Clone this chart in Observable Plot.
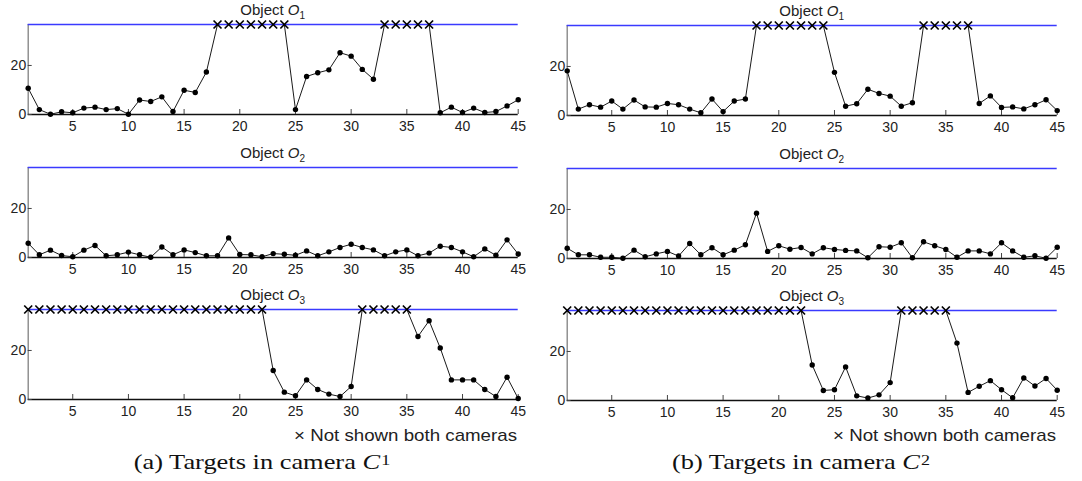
<!DOCTYPE html>
<html><head><meta charset="utf-8">
<script src="https://cdn.jsdelivr.net/npm/d3@7"></script>
<script src="https://cdn.jsdelivr.net/npm/@observablehq/plot@0.6"></script>
<style>
body{margin:0;background:#fff;}
#chart{position:relative;width:1082px;height:481px;overflow:hidden;font-family:"Liberation Sans",Arial,sans-serif;color:#222;}
#chart svg{position:absolute;background:none;}
.title{position:absolute;font-size:15px;line-height:1;white-space:nowrap;transform:translateX(-50%);}
.sub{font-size:10px;position:relative;top:4px;}
.note{position:absolute;font-size:17px;line-height:1;white-space:nowrap;text-align:right;transform:scaleX(1.1);transform-origin:right center;}
.cap{position:absolute;font-family:"Liberation Serif","DejaVu Serif",serif;font-size:22px;line-height:1;white-space:nowrap;transform:translateX(-50%) scaleX(1.2);color:#111;}
.cap sup{font-size:15px;position:relative;top:-4px;vertical-align:baseline;margin-left:1px;}
</style></head><body><div id="chart"></div>
<script>
// Frame-wise values; null = target not shown in both cameras (drawn as × on the top line)
const cam1O1 = [10.7,2.0,0.1,1.1,0.7,2.6,3.0,2.0,2.4,0.1,5.9,5.3,7.2,1.2,9.9,9.0,17.3,
  null,null,null,null,null,null,null,2.0,15.5,17.0,18.2,25.2,23.8,18.4,14.4,
  null,null,null,null,null,0.7,3.0,0.8,2.6,0.8,1.2,3.5,6.0];
const cam2O1 = [18.2,2.6,4.4,3.4,5.9,2.6,6.3,3.5,3.4,4.9,4.4,2.6,1.1,6.7,1.6,5.9,6.7,
  null,null,null,null,null,null,null,17.6,3.8,4.8,10.7,9.0,7.9,3.8,5.2,
  null,null,null,null,null,4.9,8.0,3.3,3.5,2.7,4.4,6.4,2.0];
const cam1O2 = [5.8,1.1,3.0,0.8,0.3,3.0,4.9,0.7,1.1,2.2,1.1,0.1,4.3,1.1,3.1,2.0,0.7,0.7,8.0,1.2,
  1.1,0.3,1.6,1.3,0.9,2.7,0.7,2.3,4.1,5.4,4.1,3.1,0.7,2.3,3.1,0.7,1.8,4.6,4.1,2.3,0.3,3.5,0.9,7.2,1.4];
const cam2O2 = [4.2,1.5,1.5,0.5,0.5,0.1,3.4,0.7,1.9,2.9,1.0,6.1,1.5,4.4,1.5,3.4,5.6,18.5,2.9,5.2,
  3.8,4.5,1.9,4.4,3.7,3.3,3.1,0.3,4.8,4.6,6.4,0.3,6.8,5.2,3.7,0.5,3.1,3.1,1.9,6.4,3.1,0.5,1.1,0.1,4.6];
const cam1O3 = [null,null,null,null,null,null,null,null,null,null,null,null,null,null,null,null,null,null,null,null,null,null,
  11.8,3.0,1.5,8.0,4.1,2.2,1.2,5.3,null,null,null,null,null,25.7,32.1,21.0,8.0,8.0,8.0,4.1,1.2,9.1,0.4];
const cam2O3 = [null,null,null,null,null,null,null,null,null,null,null,null,null,null,null,null,null,null,null,null,null,null,
  14.5,4.1,4.4,13.7,1.9,1.0,2.3,7.3,null,null,null,null,null,23.4,3.3,5.8,8.1,4.4,1.1,9.2,5.9,9.0,4.2];
const notShownLevel = 36.7;
const xTicks = [5,10,15,20,25,30,35,40,45];
const yTicks = [0,20];
const objectNames = ["1","2","3"];
const cameraCaptions = [["(a)","1"],["(b)","2"]];
const noteText = "× Not shown both cameras";

const chart = document.getElementById("chart");
const colLeft = [0, 539];
const rowTop = [0, 143, 285];
const W = 540, H = 140;
const panels = [[cam1O1, cam1O2, cam1O3],[cam2O1, cam2O2, cam2O3]];

function panel(values, left, top) {
  const rows = values.map((v, i) => ({frame: i + 1, value: v == null ? notShownLevel : v, hidden: v == null}));
  const svg = Plot.plot({
    width: W, height: H,
    marginLeft: 27.7, marginRight: W - 517.7, marginTop: 24, marginBottom: 26,
    x: {domain: [1, 45], label: null},
    y: {domain: [0, notShownLevel], label: null},
    style: {fontFamily: '"Liberation Sans",Arial,sans-serif', fontSize: "14px", color: "#222", background: "none"},
    marks: [
      Plot.ruleX([1], {stroke: "#808080", strokeWidth: 1.3}),
      Plot.line(rows, {x: "frame", y: "value", stroke: "#1a1a1a", strokeWidth: 1}),
      Plot.ruleY([notShownLevel], {stroke: "#3a3aff", strokeWidth: 1.7}),
      Plot.ruleY([0], {stroke: "#111", strokeWidth: 1.3}),
      Plot.axisX(xTicks, {tickSize: -5, tickPadding: 12, stroke: "#444", fill: "#222", label: null}),
      Plot.axisY(yTicks, {tickSize: -4, tickPadding: 6, stroke: "#444", fill: "#222", label: null}),
      Plot.dot(rows.filter(d => !d.hidden), {x: "frame", y: "value", r: 2.7, fill: "#000", stroke: "none"}),
      Plot.dot(rows.filter(d => d.hidden), {x: "frame", y: "value", symbol: "times", r: 3.7, stroke: "#000", fill: "none", strokeWidth: 1.7})
    ]
  });
  svg.style.left = left + "px";
  svg.style.top = top + "px";
  chart.appendChild(svg);
}

panels.forEach((col, c) => col.forEach((vals, r) => panel(vals, colLeft[c], rowTop[r] + c)));

// titles
panels.forEach((col, c) => col.forEach((vals, r) => {
  const t = document.createElement("div");
  t.className = "title";
  t.style.left = (colLeft[c] + 272.7) + "px";
  t.style.top = (rowTop[r] + 1.5 + c) + "px";
  t.innerHTML = `Object <i>O</i><span class="sub">${objectNames[r]}</span>`;
  chart.appendChild(t);
}));

// notes and captions
colLeft.forEach((l, c) => {
  const n = document.createElement("div");
  n.className = "note";
  n.style.left = l + "px";
  n.style.width = "517px";
  n.style.top = "427px";
  n.textContent = noteText;
  chart.appendChild(n);
  const cap = document.createElement("div");
  cap.className = "cap";
  cap.style.left = (l + 262) + "px";
  cap.style.top = "451px";
  cap.innerHTML = `${cameraCaptions[c][0]} Targets in camera <i>C</i><sup>${cameraCaptions[c][1]}</sup>`;
  chart.appendChild(cap);
});
</script></body></html>
